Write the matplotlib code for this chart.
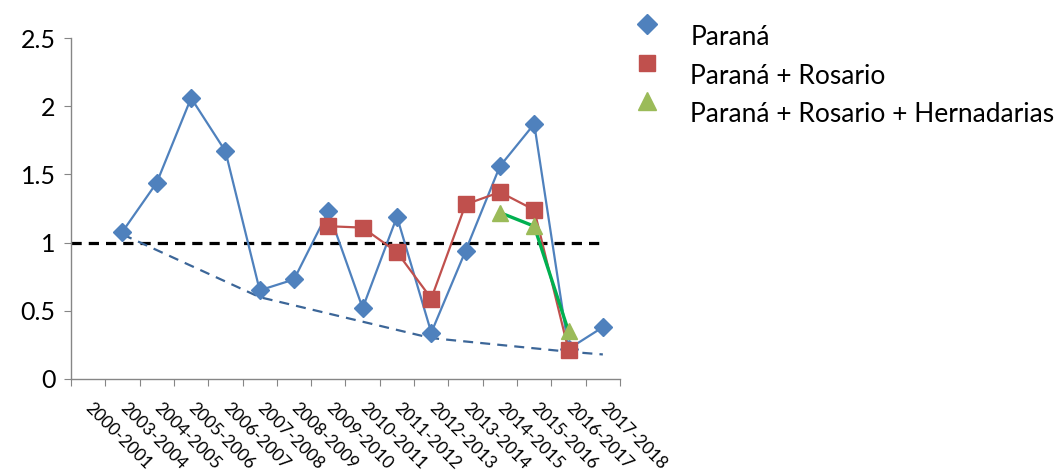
import numpy as np
import matplotlib
matplotlib.use("Agg")
import matplotlib.pyplot as plt
from matplotlib.lines import Line2D
from matplotlib.legend_handler import HandlerLine2D

plt.rcParams['font.family'] = ['Lato', 'DejaVu Sans']

categories = ['2000-2001', '2003-2004', '2004-2005', '2005-2006', '2006-2007',
              '2007-2008', '2008-2009', '2009-2010', '2010-2011', '2011-2012',
              '2012-2013', '2013-2014', '2014-2015', '2015-2016', '2016-2017',
              '2017-2018']
nan = np.nan
parana = [nan, 1.08, 1.44, 2.06, 1.67, 0.65, 0.73, 1.23, 0.52, 1.19, 0.34,
          0.94, 1.56, 1.87, 0.22, 0.38]
parana_rosario = [nan, nan, nan, nan, nan, nan, nan, 1.12, 1.11, 0.93, 0.59,
                  1.28, 1.37, 1.24, 0.21, nan]
parana_rosario_hern = [nan, nan, nan, nan, nan, nan, nan, nan, nan, nan, nan,
                       nan, 1.22, 1.12, 0.35, nan]
reference_value = 1.0
envelope_idx = [1, 5, 10, 14, 15]
envelope_vals = [1.06, 0.60, 0.30, 0.20, 0.18]
yticks = [0, 0.5, 1, 1.5, 2, 2.5]
ytick_labels = ['0', '0.5', '1', '1.5', '2', '2.5']
labels = ['Paraná', 'Paraná + Rosario', 'Paraná + Rosario + Hernadarias']

BLUE = '#4F81BD'
RED = '#C0504D'
OLIVE = '#9BBB59'
GREEN = '#00B050'
DKBLUE = '#3C6698'
GRAY = '#868686'

fig = plt.figure(figsize=(10.64, 4.73), dpi=100)
ax = fig.add_axes([71/1064, 1 - 379/473, (620-71)/1064, (379-38)/473])

x = np.arange(len(categories))

ax.hlines(reference_value, -0.5, len(categories) - 1, color='black', lw=2.3,
          linestyles=(0, (3.2, 2.2)), zorder=2)
ax.plot(envelope_idx, envelope_vals, color=DKBLUE, lw=1.6, dashes=(4.5, 3.2), zorder=2)

ax.plot(x, parana, color=BLUE, lw=1.6, marker='D', ms=9.5, mfc=BLUE, mec=BLUE, zorder=3)
ax.plot(x, parana_rosario, color=RED, lw=1.6, marker='s', ms=11, mfc=RED, mec=RED, zorder=4)
ax.plot(x, parana_rosario_hern, color=GREEN, lw=2.4, zorder=5)
ax.plot(x, parana_rosario_hern, ls='none', marker='^', ms=12, mfc=OLIVE, mec=OLIVE, zorder=6)

ax.set_xlim(-0.5, len(categories) - 0.5)
ax.set_ylim(0, 2.5)
ax.set_yticks(yticks)
ax.set_yticklabels(ytick_labels)

ax.set_xticks(np.arange(len(categories) + 1) - 0.5)
ax.set_xticklabels([])
ax.set_xticks(x, minor=True)
ax.set_xticklabels(categories, minor=True, rotation=-45, rotation_mode='anchor',
                   ha='left', va='center', fontsize=12.5)
ax.tick_params(axis='x', which='minor', length=0, pad=19)
ax.tick_params(axis='x', which='major', length=5, color=GRAY, direction='out')
ax.tick_params(axis='y', length=5, color=GRAY, direction='out', labelsize=18, pad=6)

for s in ['top', 'right']:
    ax.spines[s].set_visible(False)
for s in ['left', 'bottom']:
    ax.spines[s].set_color(GRAY)
    ax.spines[s].set_linewidth(1.0)


class RaisedHandler(HandlerLine2D):
    def create_artists(self, legend, orig_handle, xdescent, ydescent, width,
                       height, fontsize, trans):
        arts = super().create_artists(legend, orig_handle, xdescent, ydescent,
                                      width, height, fontsize, trans)
        for a in arts:
            a.set_ydata(np.asarray(a.get_ydata(), dtype=float) + 8.5)
        return arts


handles = [
    Line2D([], [], ls='none', marker='D', ms=10.5, color=BLUE),
    Line2D([], [], ls='none', marker='s', ms=11, color=RED),
    Line2D([], [], ls='none', marker='^', ms=13, color=OLIVE),
]
fig.legend(handles, labels, loc='upper left', bbox_to_anchor=(638/1064, 1 - 25/473),
           frameon=False, fontsize=19, handlelength=0.7, handletextpad=1.28,
           labelspacing=0.52, borderaxespad=0, borderpad=0,
           handler_map={Line2D: RaisedHandler()})

fig.savefig('out.png', dpi=100)
